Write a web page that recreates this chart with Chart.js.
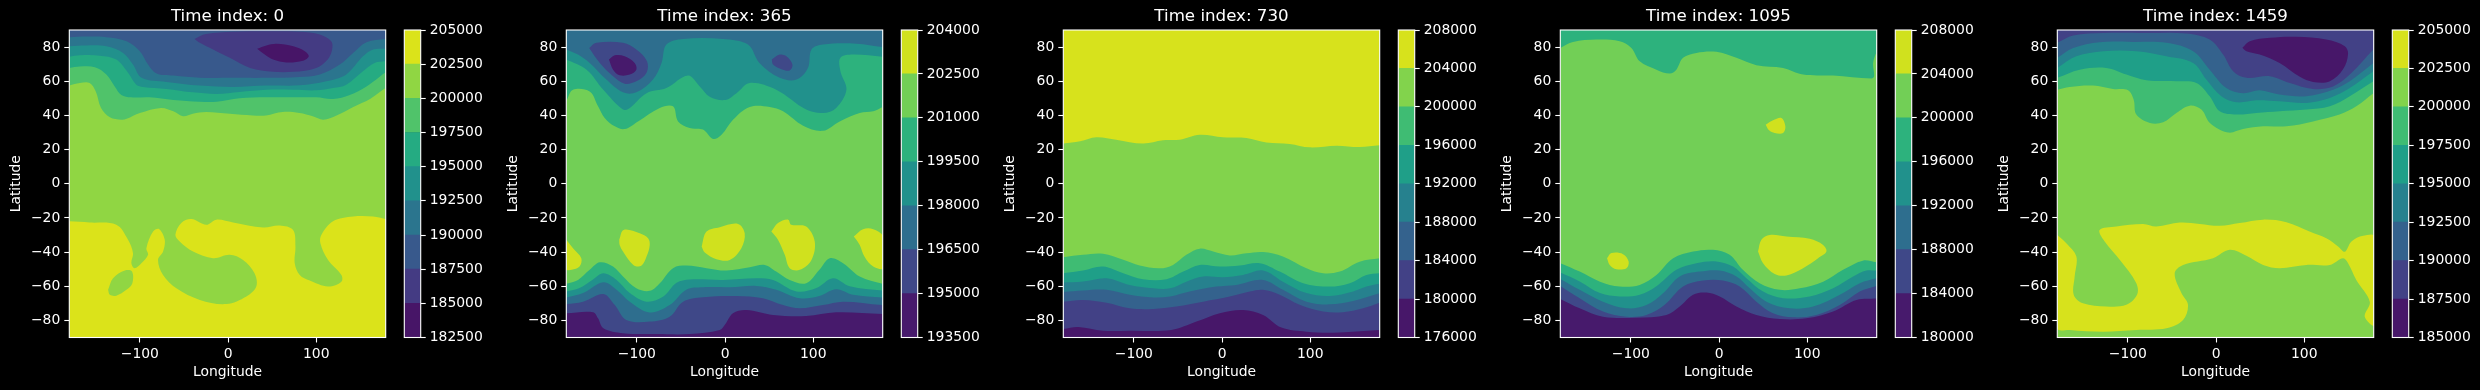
<!DOCTYPE html>
<html>
<head>
<meta charset="utf-8">
<style>
  html, body { margin: 0; background: #000; overflow: hidden; width: 2480px; height: 390px; }
  canvas { position: absolute; top: 0; }
</style>
<script src="https://cdn.jsdelivr.net/npm/chart.js@4/dist/chart.umd.min.js"></script>
</head>
<body>
<script>
var timeIndices = [0, 365, 730, 1095, 1459];
var lonTicks = [-100, 0, 100];
var latTicks = [-80, -60, -40, -20, 0, 20, 40, 60, 80];

var levels0 = [182500, 185000, 187500, 190000, 192500, 195000, 197500, 200000, 202500, 205000];
var levels1 = [193500, 195000, 196500, 198000, 199500, 201000, 202500, 204000];
var levels2 = [176000, 180000, 184000, 188000, 192000, 196000, 200000, 204000, 208000];
var levels3 = [180000, 184000, 188000, 192000, 196000, 200000, 204000, 208000];
var levels4 = [185000, 187500, 190000, 192500, 195000, 197500, 200000, 202500, 205000];

// each contour: [band index, latitude the curve closes to (null = closed already), lon,lat,lon,lat...]
var contours0 = [
  [7, 90, [-180,-90]],
  [6, 90, [-180,57.5,-168,59,-157,59,-150,54,-144,44.4,-134,39,-121,37.5,-115,38,-100,41.4,-76,44.4,-62,42.4,-51,39.5,-40,41,-25,42,2,41,28,40,43,40,62,42,81,41.4,96,39.5,108,37.5,123,40,142,45,161,49.6,178.5,56]],
  [5, 90, [-180,67.8,-168,68.6,-151,68.2,-138,64,-128.5,57,-121,52,-110,50.6,-89,50.6,-62,49,-32,48,-13,48,13,50,43,50.6,74,50.6,100,50.6,119,49.6,138,52,157,57,168,61,178,65]],
  [4, 90, [-180,74.3,-168,75.2,-145.6,75,-126.7,72.7,-113.4,65,-104,58,-96.4,56.7,-70,55.5,-39.7,53.5,-13,52.6,13,53.7,43.5,55,74,55,100,54.7,119,56,134,58,153,65.9,166,70.7,178.5,71.7]],
  [3, 90, [-180,80.5,-160.7,81,-138,80.5,-119,76.6,-107.8,69.8,-98,62,-70,59.6,-32,57.5,5.7,56.7,43.5,57.5,81,57.6,111.5,60,134,64,153,74.6,164.5,78.6,178.5,79]],
  [2, 90, [-180,85.8,-160.7,86.2,-138,85.8,-115,83.4,-100,77.6,-90.7,69.8,-81,64.5,-62,63.3,-32,62,5.7,62,43.5,62,81,62.5,104,64,126.7,69.8,141.8,76.6,157,82.9,178.5,84.8]],
  [1, null, [-38,84.8,-25,87.7,6,89,43,89.3,81,89,104,87.4,117,83.4,118,78.6,113,72.7,100,67.8,74,65.5,51,65.5,25,67.8,2,73.7,-17,78.6,-32,82.5]],
  [0, null, [33,79,43.5,81,55,82,74,80.5,87,77.6,91.5,74.6,85,72,66,71,51,72.7,41.6,75.6]],
  [8, -90, [-180,-22,-157,-22.7,-126.7,-24,-113.4,-32.8,-107.8,-40.6,-109.6,-46.5,-105.9,-49.4,-98.3,-46.5,-90.7,-41.6,-92.6,-37.7,-85,-28,-78,-26.6,-71.8,-32.8,-73.7,-39.7,-79.4,-44.6,-73.7,-53.4,-58.6,-61.2,-32,-68,-1.9,-70.4,20.8,-66,32,-60.2,30,-52.4,17,-44.6,1.9,-41.6,-17,-43.6,-39.7,-39.7,-54.8,-33.8,-59.7,-29.9,-53,-23,-41.6,-20.7,-24.6,-24,-13.2,-21,5.7,-22.7,39.7,-25.6,58.6,-24.4,73.7,-27,76.4,-36.7,75.6,-46.5,81.3,-53.4,92.6,-56.7,113.4,-60.2,128.5,-57.3,128.5,-53.4,113.4,-44.6,104.7,-34.8,105.9,-29.9,119,-22,141.8,-19.2,164.5,-19.2,178.5,-20.7]],
  [7, null, [-136,-62,-130.4,-55.3,-117,-50.8,-108.9,-51.4,-108.5,-58.2,-115.3,-62.1,-126.7,-65.5,-134,-65]]
];

var contours1 = [
  [5, 90, [-180,-90]],
  [4, 90, [-180,48.3,-172.4,55,-153.5,54,-144,45.3,-136.5,38.5,-125,33.6,-113.8,32,-98.7,36.5,-74,44.4,-59,45.3,-53.3,36.5,-40,32.6,-25,31.7,-13.6,26.2,-4,28.7,9,37.5,28,45,50.7,45,65.8,42.4,88.5,34,111,31,130,36.5,152.7,41.4,168,42.4,178.5,45]],
  [3, 90, [-180,72.7,-157,66.8,-138,55,-115.7,43.4,-108,44.4,-89,53,-66.5,56,-42,63.3,-28.7,57,-17.4,51,0,49,13,53,28,59,58,55,92,43.4,111,41.4,126,44.4,137.6,55,130.8,65.9,130.8,73.7,145,75.6,178.5,74.3]],
  [2, 90, [-180,78.6,-166.7,75.6,-153.5,70.7,-134.6,61,-115.7,53.5,-100.6,53.5,-81.7,61,-72,70.7,-66.5,81.5,-47.6,84.8,-2.3,84.8,26,81.5,39,70.7,62,62,81,61,94,67.8,98,78.6,111,81.5,149,82,178.5,80]],
  [1, null, [-154,79.5,-146,82.5,-115.7,82.5,-100.6,78.6,-88.5,71.7,-89,65,-100.6,60,-113.8,58.6,-127,63,-142,70.7]],
  [0, null, [-131.6,72.7,-125,75.2,-113.8,74.6,-102.5,70.7,-100.6,66.8,-108,63.9,-119.5,63.5,-127,66.8]],
  [1, null, [53,72.7,62,75.6,69.6,74.6,76.4,69.8,73.3,66.3,63.9,67,54.4,69.8]],
  [4, -90, [-180,-58.6,-166.7,-56.3,-153.5,-50.4,-142,-46,-127,-48.5,-115.7,-54.3,-100.6,-61.2,-85.4,-62.7,-74,-58.2,-59,-49.4,-43.9,-47.9,-21,-49.4,1.5,-50.8,28,-48.9,45,-47.5,58,-51.4,73.3,-56.3,92,-58.2,107,-50.4,118.7,-43.6,133.8,-46.5,152.7,-54.3,178.5,-58.6]],
  [3, -90, [-180,-63,-165,-61,-149.7,-56,-138,-52.4,-123,-56.3,-108,-64,-89,-69,-70,-66,-55,-58,-40,-56,-2,-56.3,35.5,-55.3,54.4,-56.3,81,-63,103.6,-61,122.5,-55.3,141.4,-60,178.5,-62.5]],
  [2, -90, [-180,-66.6,-161,-64,-138,-57.7,-123,-62,-108,-69,-85.4,-75.3,-62.8,-71,-43.9,-62,-25,-60.6,5.3,-60.6,35.5,-59.8,58,-62,84.7,-67,107,-65.7,126,-61.8,145,-65,178.5,-66.6]],
  [1, -90, [-180,-70.4,-161,-69,-138,-64.5,-125,-71,-112,-79.7,-85.4,-80.7,-62.8,-77.8,-47.6,-69,-25,-66.4,12.9,-65.7,43,-67,65.8,-71,84.7,-72.9,111,-71,133.8,-69,178.5,-71]],
  [0, -90, [-180,-75.8,-149.7,-75.2,-144,-78.8,-138,-84.6,-115.7,-87.5,-78,-88,-40,-88,-6,-85.6,-0.4,-82.7,9,-75.8,24,-73.9,54.4,-76.8,92,-77.4,126,-75.2,178.5,-76.2]],
  [6, null, [-180,-32.8,-172.4,-37.7,-163,-43.6,-165,-48.5,-174,-50.4,-180,-50]],
  [6, null, [-120,-32.8,-115,-27,-96.8,-29,-87.3,-31.9,-85.4,-35.8,-89,-42.6,-95,-48,-104,-47.5,-115.7,-39.7,-119.5,-35.8]],
  [6, null, [-26.5,-36.7,-21,-28,-6,-25.4,14.7,-23.5,22.3,-29,18.5,-37.7,5.3,-44.6,-9.8,-44.2,-23,-40.3]],
  [6, null, [52.5,-28,60,-23,71.5,-21,75,-24,92,-25,101.7,-33.8,98,-44.6,84.7,-50.4,73.3,-49.4,67.7,-41.6,60,-32.8]],
  [6, null, [146,-30.9,156.5,-26.6,168,-26.6,180,-31.3,180,-49.4,168,-48.5,158,-42.6,152.7,-35.8]]
];

var contours2 = [
  [6, 90, [-180,-90]],
  [7, 90, [-180,23.5,-161,24.9,-142.5,27.2,-120,25.8,-89.6,23.5,-67,25.4,-48,25.8,-25.3,28.7,1,27.2,27.6,26.8,50.3,24.2,76.7,23.3,99.4,21.3,129.7,22.3,156,21.5,178.5,22.5]],
  [5, -90, [-180,-43,-157.7,-41.6,-135,-41,-112,-44.5,-93.4,-47.9,-70.7,-49.5,-55.6,-47.5,-40.5,-41.6,-25.3,-38,-10,-39.7,8.7,-42,27.6,-40.7,46.5,-40,69,-42.6,95.7,-49.5,114.6,-52.4,133.5,-51.4,156,-45.6,178.5,-43.6]],
  [4, -90, [-180,-52.4,-157.7,-50.8,-135,-48.5,-112,-52.4,-89.6,-55.9,-63,-55.9,-44,-51.4,-25.3,-47.5,-2.6,-48.5,20,-47.9,42.7,-46.5,65.4,-51.4,91.9,-58.2,122,-60.2,144.8,-58.2,163.7,-53.4,178.5,-52.4]],
  [3, -90, [-180,-57.8,-157.7,-57.2,-131,-55.3,-104.7,-59.2,-78,-61.2,-59,-61.2,-40.5,-57.3,-21.5,-54.3,1,-54.7,23.8,-53.4,46.5,-50.8,69,-57.3,95.7,-64,122,-65.7,148.6,-63.1,163.7,-60.2,178.5,-58.6]],
  [2, -90, [-180,-63.3,-157.7,-62.5,-131,-62.1,-104.7,-65,-78,-66.6,-59,-66,-36.7,-63.1,-6.4,-60.2,16.3,-59.2,46.5,-56.3,69,-62.1,95.7,-69,122,-70.6,148.6,-68.6,178.5,-64.1]],
  [1, -90, [-180,-69,-157.7,-68,-131,-69.6,-104.7,-72.9,-78,-73.3,-51.8,-71.9,-21.5,-69,8.7,-66,31.4,-63.1,46.5,-62.1,65.4,-65,88,-70.9,114.6,-74.8,137,-75.2,160,-72.9,178.5,-69.6]],
  [0, -90, [-180,-85,-163,-83.8,-135,-86,-104.7,-86,-57.5,-85.6,-29,-80.7,-2.6,-75.8,23.8,-73.9,46.5,-76.8,67.3,-84.2,95.7,-86.6,125.9,-87.2,178.5,-85.6]]
];

var contours3 = [
  [5, 90, [-180,-90]],
  [4, 90, [-180,79.5,-165.6,83,-139,84.4,-112.7,83.4,-99.4,79.5,-90,71.7,-71,66.8,-56,64.5,-48.4,66.8,-40.8,73.7,-25.7,76.6,-3,77.2,19.7,73.7,42.3,69.4,72.6,67.8,95.3,63.9,129.3,63.3,172.8,61.6,175.8,62.9,174.7,70.7,178.5,77]],
  [4, -90, [-180,-46.5,-158,-51.4,-135,-57.3,-112.7,-60.2,-90,-59.2,-71,-53.4,-52,-43.6,-29.5,-39.7,-6.8,-38.7,12,-41.6,27,-50.4,46,-58.2,68.8,-62.1,91.5,-61.2,118,-57.3,140.6,-50.4,163,-45,178.5,-46]],
  [3, -90, [-180,-52,-158,-57.2,-135,-64,-112.7,-66,-90,-65,-71,-60,-48.4,-50.4,-25.7,-46.5,-3,-45.5,15.9,-48.5,31,-55.3,50,-63.1,72.6,-67,102.8,-66,129.3,-61.2,152,-54.3,167,-50.8,178.5,-50.8]],
  [2, -90, [-180,-55.7,-158,-62.1,-131.6,-69,-105,-72.9,-82.4,-71,-63.5,-64.1,-44.6,-54.3,-22,-51.4,0.8,-50.8,19.7,-54.3,34.8,-61.2,53.7,-69,80,-72.9,106.6,-71.9,136.9,-65,159.5,-58.2,178.5,-55.3]],
  [1, -90, [-180,-59.8,-158,-67,-131.6,-74.8,-105,-77.8,-82.4,-76.8,-61.6,-70.9,-40.8,-60.2,-18,-56.7,4.5,-56.7,23.4,-60.2,42.3,-69,61.2,-75.8,83.9,-78.2,110.4,-76.8,136.9,-71,159.5,-63.1,178.5,-59.8]],
  [0, -90, [-180,-67.4,-158,-72.9,-131.6,-77.8,-93.8,-78.4,-59.7,-76.8,-44.6,-71.9,-29.5,-65,-14.4,-63.7,0.8,-66,19.7,-71.9,42.3,-76.8,68.8,-79.2,99,-78.8,129.3,-74.8,155.8,-68,178.5,-67.2]],
  [6, null, [52.9,34.6,61.2,37.1,70.7,38.5,75.2,33.6,72.6,29.7,63.1,29.7,56.7,31.3]],
  [6, null, [-127,-43.6,-122,-40.6,-108.9,-41.2,-102.5,-45.5,-105,-49.4,-116.4,-50,-124,-47.5]],
  [6, null, [44.2,-39.7,48,-32.8,57.5,-30,76.4,-30.9,102.8,-32.2,118,-35.8,121.7,-39.7,112.3,-43.6,95.3,-49.4,76.4,-53.7,63.1,-52.8,49.9,-46.5]]
];

var contours4 = [
  [6, 90, [-180,-90]],
  [5, 90, [-180,55,-166,56.7,-139.5,57.5,-116.8,55.5,-99.8,54.7,-93.4,49.2,-90.4,40.5,-75,35.6,-60,36,-45,41.4,-29.9,45.7,-16.6,43.4,-7,35.6,13.6,30,30.6,32,53.3,33.6,79.8,33.6,110,36.5,140,40.5,159,45.3,178.5,53]],
  [4, 90, [-180,62,-154.6,66.8,-124.4,67.8,-101.7,63.9,-79,60.6,-45,60,-22.3,59,-7.2,51.2,4.2,42.4,23,40.5,45.7,41.4,72,42.4,102.5,43.4,129,45.3,151.6,51.2,178.5,60]],
  [3, 90, [-180,67.8,-158.4,74.6,-128,77.6,-90.4,77.6,-56.3,74.6,-26,70.7,-11,61,6,51.2,23,47.7,45.7,48.9,72,48.3,102.5,47.3,129,50.2,151.6,56,178.5,65.9]],
  [2, 90, [-180,73.7,-162,79.5,-132,82.9,-94,83,-56.3,82.5,-26,77.6,-7.2,66.8,11.7,56,30.6,53,49.5,54.7,72,52.2,102.5,51.2,132.7,55,151.6,60,178.5,70.7]],
  [1, 90, [-180,82.5,-162,86.8,-128,88.3,-79,88.3,-33.6,88,-7.2,84.4,8,75.6,19.3,65.9,34.4,62,60.9,63,83.6,59,110,55.5,132.7,57,151.6,63.9,178.5,78.6]],
  [0, null, [29.9,79.6,38.2,83.4,60.9,85.4,91,86,125,84.4,146,80.5,149.7,76,144,67,129,60,110,59.6,95,62.6,72,70.7,49.5,75.6,34.4,77.6]],
  [7, null, [-180,-30,-169.8,-34.8,-158.4,-42.6,-160.3,-54.3,-161.4,-65,-150.9,-70,-124.4,-71.9,-101.7,-70.9,-89.6,-65,-90.4,-58.2,-109,-44.6,-126.3,-33.8,-132,-27,-113,-25,-82.8,-23.5,-67.7,-25,-41,-22.7,-18.5,-23.5,4.2,-24.6,26.8,-23,53.3,-21,79.8,-22.5,106,-28,125,-31.9,138.4,-36.7,146,-39.8,153.5,-33.8,166.7,-30.5,180,-30.9,180,-82.7,168.6,-77.8,174.3,-69,159,-56.3,149.7,-46.5,144,-43.6,129,-47.5,102.5,-47.5,72,-49.4,53.3,-47.5,34.4,-42.2,15.5,-38.7,-3.4,-43.6,-37.4,-47.5,-46.9,-52.4,-39.3,-64,-31.8,-70.9,-37.4,-79.7,-56.3,-84.6,-90.4,-85.6,-128,-86.6,-166,-85.6,-180,-84.6]]
];

var levelSets = [levels0, levels1, levels2, levels3, levels4];
var contourSets = [contours0, contours1, contours2, contours3, contours4];

var viridisStops = ['#440154', '#471365', '#482475', '#453781', '#414487', '#3b528b', '#355f8d', '#2f6c8e', '#2a788e', '#25848e', '#21918c', '#1e9c89', '#22a884', '#2fb47c', '#44bf70', '#5ec962', '#7ad151', '#9bd93c', '#bddf26', '#dfe318', '#fde725'];

function hex2rgb(hex) {
  var value = hex.replace('#', '').match(/[a-f\d]{2}/gi);
  return [parseInt(value[0], 16), parseInt(value[1], 16), parseInt(value[2], 16)];
}

function viridis(t) {
  var pos = t * (viridisStops.length - 1);
  var i = Math.min(Math.floor(pos), viridisStops.length - 2);
  var a = hex2rgb(viridisStops[i]);
  var b = hex2rgb(viridisStops[i + 1]);
  var f = pos - i;
  return 'rgb(' + a.map(function (v, k) { return Math.round(v + (b[k] - v) * f); }).join(',') + ')';
}

function bandColor(band, levels) {
  return viridis((band + 0.5) / (levels.length - 1));
}

// flat lon,lat list to points, closing round the map corners when asked
function contourPoints(flat, closeLat) {
  var pts = [];
  for (var i = 0; i < flat.length; i += 2) pts.push({ x: flat[i], y: flat[i + 1] });
  if (closeLat !== null) {
    pts.push({ x: 180, y: pts[pts.length - 1].y });
    pts.push({ x: 180, y: closeLat });
    pts.push({ x: -180, y: closeLat });
  } else {
    pts.push({ x: pts[0].x, y: pts[0].y });
  }
  return pts;
}

function tickText(v) {
  return String(v).replace('-', '\u2212');
}

var spinePlugin = {
  id: 'spines',
  afterDatasetsDraw: function (chart) {
    var a = chart.chartArea;
    var ctx = chart.ctx;
    ctx.save();
    ctx.strokeStyle = '#fff';
    ctx.lineWidth = 1.1;
    ctx.strokeRect(a.left, a.top, a.right - a.left, a.bottom - a.top);
    ctx.restore();
  }
};

Chart.defaults.font.family = '"DejaVu Sans"';
Chart.defaults.font.size = 13.9;
Chart.defaults.color = '#fff';
Chart.defaults.animation = false;

var PANEL_STEP = 497;
var CANVAS_H = 390;
var PLOT_W = 395;
var PLOT_LEFT = 69.3;
var PLOT_RIGHT = 385.7;
var PLOT_BOTTOM = 337.5;
var BAR_W = 100;
var BAR_LEFT = 9.3;
var BAR_WIDTH = 16.4;

function addCanvas(left, width) {
  var c = document.createElement('canvas');
  c.width = width;
  c.height = CANVAS_H;
  c.style.left = left + 'px';
  c.style.width = width + 'px';
  c.style.height = CANVAS_H + 'px';
  document.body.appendChild(c);
  return c.getContext('2d');
}

function tickGrid() {
  return { drawOnChartArea: false, tickLength: 5, tickColor: '#fff', tickWidth: 1.1 };
}

function drawPanel(index) {
  var levels = levelSets[index];
  var contours = contourSets[index];
  var datasets = contours.map(function (c, i) {
    return {
      data: contourPoints(c[2], c[1]),
      showLine: true,
      fill: 'shape',
      backgroundColor: bandColor(c[0], levels),
      borderWidth: 0,
      pointRadius: 0,
      tension: 0.35,
      order: contours.length - i
    };
  });

  new Chart(addCanvas(index * PANEL_STEP, PLOT_W), {
    type: 'scatter',
    data: { datasets: datasets },
    plugins: [spinePlugin],
    options: {
      responsive: false,
      layout: { padding: { right: PLOT_W - PLOT_RIGHT } },
      plugins: {
        legend: { display: false },
        tooltip: { enabled: false },
        title: {
          display: true,
          text: 'Time index: ' + timeIndices[index],
          fullSize: false,
          color: '#fff',
          font: { size: 16.67, weight: 'normal' },
          padding: { top: 7, bottom: 3 }
        }
      },
      scales: {
        x: {
          type: 'linear',
          min: -180,
          max: 178.75,
          afterBuildTicks: function (s) { s.ticks = lonTicks.map(function (v) { return { value: v }; }); },
          afterFit: function (s) { s.height = CANVAS_H - PLOT_BOTTOM; },
          grid: tickGrid(),
          border: { display: false },
          ticks: { autoSkip: false, maxRotation: 0, padding: 4, callback: tickText },
          title: { display: true, text: 'Longitude', padding: { top: 4, bottom: 9.7 } }
        },
        y: {
          type: 'linear',
          min: -90,
          max: 90,
          afterBuildTicks: function (s) { s.ticks = latTicks.map(function (v) { return { value: v }; }); },
          afterFit: function (s) { s.width = PLOT_LEFT; },
          grid: tickGrid(),
          border: { display: false },
          ticks: { autoSkip: false, padding: 4, callback: tickText },
          title: { display: true, text: 'Latitude', padding: { top: 7.7, bottom: 4 } }
        }
      }
    }
  });

  var barSets = [];
  for (var b = 0; b < levels.length - 1; b++) {
    barSets.push({
      data: [[levels[b], levels[b + 1]]],
      backgroundColor: bandColor(b, levels),
      barPercentage: 1,
      categoryPercentage: 1,
      grouped: false
    });
  }

  new Chart(addCanvas(index * PANEL_STEP + PLOT_W, BAR_W), {
    type: 'bar',
    data: { labels: [''], datasets: barSets },
    plugins: [spinePlugin],
    options: {
      responsive: false,
      layout: { padding: { left: BAR_LEFT, top: 30, bottom: CANVAS_H - PLOT_BOTTOM } },
      plugins: { legend: { display: false }, tooltip: { enabled: false } },
      scales: {
        x: { display: false },
        y: {
          position: 'right',
          min: levels[0],
          max: levels[levels.length - 1],
          afterBuildTicks: function (s) { s.ticks = levels.map(function (v) { return { value: v }; }); },
          afterFit: function (s) { s.width = BAR_W - BAR_LEFT - BAR_WIDTH; },
          grid: tickGrid(),
          border: { display: false },
          ticks: { autoSkip: false, padding: 4, callback: tickText }
        }
      }
    }
  });
}

timeIndices.forEach(function (t, i) { drawPanel(i); });
</script>
</body>
</html>
